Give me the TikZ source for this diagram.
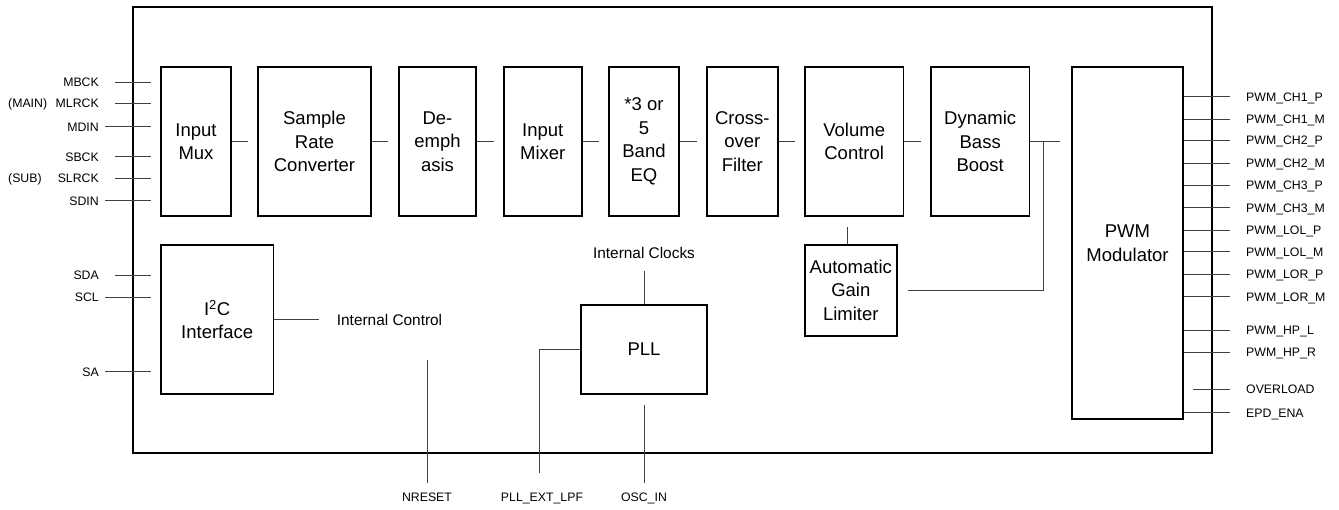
\documentclass[tikz,border=0pt]{standalone}
\usepackage{fontspec}
\setmainfont{Liberation Sans}
\begin{document}
\begin{tikzpicture}[x=1pt,y=-1pt,
  blk/.style={draw=black, line width=1.7pt, inner sep=0pt, align=center,
    font=\fontsize{18.5}{23.5}\selectfont},
  frame/.style={draw=black, line width=2.2pt},
  wire/.style={draw=black!75, line width=0.9pt},
  pin/.style={inner sep=0pt, text height=8.9pt, text depth=0pt,
    font=\fontsize{12.3}{14}\selectfont},
  biglbl/.style={inner sep=0pt, text height=11.2pt, text depth=0pt,
    font=\fontsize{15.4}{18}\selectfont}]
\useasboundingbox (0,0) rectangle (1339,509);
\draw[frame] (133,7) rectangle (1212,453);

% processing chain
\node[blk, minimum width=70pt, minimum height=149pt] (mux) at (196,141.5) {Input\\Mux};
\node[blk, minimum width=113pt, minimum height=149pt] (src) at (314.5,141.5) {Sample\\Rate\\Converter};
\node[blk, minimum width=77.6pt, minimum height=149pt] (demph) at (437.5,141.5) {De-\\emph\\asis};
\node[blk, minimum width=77.7pt, minimum height=149pt] (mixer) at (542.8,141.5) {Input\\Mixer};
\node[blk, minimum width=70pt, minimum height=149pt] (eq) at (644,141.5) {*3 or\\5\\Band\\EQ};
\node[blk, minimum width=70.7pt, minimum height=149pt] (cross) at (742.3,141.5) {Cross-\\over\\Filter};
\node[blk, minimum width=98.3pt, minimum height=149pt] (vol) at (854.2,141.5) {Volume\\Control};
\node[blk, minimum width=98.3pt, minimum height=149pt] (dbb) at (980.2,141.5) {Dynamic\\Bass\\Boost};
\node[blk, minimum width=111.6pt, minimum height=352pt] (pwm) at (1127.5,243.3) {PWM\\Modulator};
\node[blk, minimum width=91.7pt, minimum height=90.7pt] (agl) at (850.8,290.3) {Automatic\\Gain\\Limiter};
\node[blk, minimum width=112.3pt, minimum height=149pt] (i2c) at (217.2,319.5) {I\textsuperscript{2}C\\Interface};
\node[blk, minimum width=126pt, minimum height=89pt] (pll) at (644,349.5) {PLL};

% chain connectors
\foreach \a/\b in {mux/src, src/demph, demph/mixer, mixer/eq, eq/cross, cross/vol, vol/dbb}
  \draw[wire] (\a.east) -- ([xshift=-9.5pt]\b.west);
\draw[wire] (dbb.east) -- ([xshift=-10.7pt]pwm.west |- dbb.east);
\coordinate (j) at (1043.3,141.5);
\draw[wire] (j) |- ([xshift=10pt]agl.east);
\draw[wire] ([xshift=-3.5pt]agl.north) -- ([xshift=-3.5pt,yshift=-10pt]agl.north |- vol.south);

% left pins
\foreach \n/\t/\y/\g in {mbck/MBCK/82.3/16, mlrck/MLRCK/103.3/16, mdin/MDIN/126.7/6,
    sbck/SBCK/156.7/16, slrck/SLRCK/178.3/16, sdin/SDIN/200.7/6} {
  \node[pin, anchor=east] (\n) at (99,\y) {\t};
  \draw[wire] ([xshift=\g pt]\n.east) -- ([xshift=-9.3pt]\n.east -| mux.west);
}
\foreach \n/\t/\y/\g in {sda/SDA/275/16, scl/SCL/297.3/6, sa/SA/371.7/6} {
  \node[pin, anchor=east] (\n) at (99,\y) {\t};
  \draw[wire] ([xshift=\g pt]\n.east) -- ([xshift=-9.3pt]\n.east -| i2c.west);
}
\node[pin, anchor=west] (mainl) at (8,103.3) {(MAIN)};
\node[pin, anchor=west] (subl) at (8,178.3) {(SUB)};

% right pins
\foreach \n/\t/\y in {p1/PWM\_CH1\_P/96.7, p2/PWM\_CH1\_M/119, p3/PWM\_CH2\_P/140.5,
    p4/PWM\_CH2\_M/163.3, p5/PWM\_CH3\_P/185, p6/PWM\_CH3\_M/207.7,
    p7/PWM\_LOL\_P/230, p8/PWM\_LOL\_M/251.7, p9/PWM\_LOR\_P/274,
    p10/PWM\_LOR\_M/296.7, p11/PWM\_HP\_L/330, p12/PWM\_HP\_R/352.3,
    p14/EPD\_ENA/412.7} {
  \node[pin, anchor=west] (\n) at (1246,\y) {\t};
  \draw[wire] (pwm.east |- \n.west) -- ([xshift=-16pt]\n.west);
}
\node[pin, anchor=west] (ovl) at (1246,389.3) {OVERLOAD};
\draw[wire] ([xshift=-52.7pt]ovl.west) -- ([xshift=-16pt]ovl.west);

% internal control / clocks
\node[biglbl, anchor=west] (ictl) at (336.7,319.5) {Internal Control};
\draw[wire] (i2c.east) -- ([xshift=-17.4pt]ictl.west);
\node[biglbl] (iclk) at (644,252.7) {Internal Clocks};
\draw[wire] (pll.north) -- ([yshift=-12pt]iclk.south);

% bottom pins
\node[pin] (nreset) at (427,497.3) {NRESET};
\node[pin] (lpf) at (542,497.3) {PLL\_EXT\_LPF};
\node[pin] (osc) at (644,497.3) {OSC\_IN};
\coordinate (nrtop) at (427,360);
\draw[wire] (nrtop) -- ([yshift=9.5pt]nreset.north);
\coordinate (lpfend) at (539,473.3);
\draw[wire] (pll.west) -| (lpfend);
\draw[wire] ([yshift=-10pt]pll.south) -- ([yshift=9.5pt]osc.north);
\end{tikzpicture}
\end{document}
